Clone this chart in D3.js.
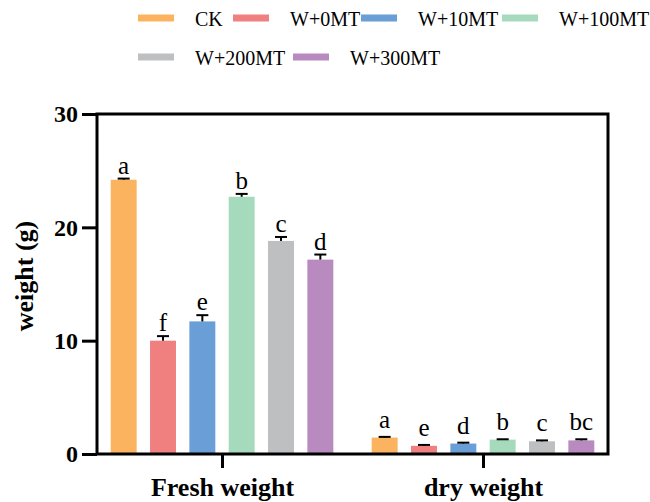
<!DOCTYPE html>
<html>
<head>
<meta charset="utf-8">
<script src="https://cdn.jsdelivr.net/npm/d3@7"></script>
<style>
  body { margin: 0; background: #fff; }
  svg { display: block; }
  svg text { font-family: "Liberation Serif", "Times New Roman", serif !important; }
</style>
</head>
<body>
<svg id="chart" width="650" height="502"></svg>
<script>
// data
const groups = ["Fresh weight", "dry weight"];
const treatments = ["CK", "W+0MT", "W+10MT", "W+100MT", "W+200MT", "W+300MT"];
const freshMeans = [24.2, 10.0, 11.7, 22.7, 18.8, 17.15];
const freshErrors = [0.1, 0.4, 0.55, 0.25, 0.35, 0.45];
const freshLetters = ["a", "f", "e", "b", "c", "d"];
const dryMeans = [1.45, 0.72, 0.92, 1.27, 1.12, 1.2];
const dryErrors = [0.06, 0.08, 0.08, 0.03, 0.08, 0.1];
const dryLetters = ["a", "e", "d", "b", "c", "bc"];
const yTicks = [0, 10, 20, 30];
const colors = ["#FBB360", "#F08080", "#6A9ED6", "#A6DABC", "#BEBFC1", "#B98AC0"];

const rows = [];
groups.forEach((g, gi) => {
  const means = gi === 0 ? freshMeans : dryMeans;
  const errs = gi === 0 ? freshErrors : dryErrors;
  const letters = gi === 0 ? freshLetters : dryLetters;
  treatments.forEach((t, i) => {
    rows.push({ group: g, gi, treatment: t, mean: means[i], err: errs[i], letter: letters[i] });
  });
});

const svg = d3.select("#chart");
const plot = { left: 97, right: 608, top: 114, bottom: 454 };

const y = d3.scaleLinear().domain([0, 30]).range([plot.bottom, plot.top]);
const x0 = d3.scalePoint().domain(groups).range([plot.left, plot.right]).padding(0.479);
const x1 = d3.scaleBand().domain(treatments).range([-118, 118]).paddingInner(0.34).paddingOuter(0.17);
const color = d3.scaleOrdinal().domain(treatments).range(colors);

const cx = d => x0(d.group) + x1(d.treatment) + x1.bandwidth() / 2;

// bars
svg.append("g").selectAll("rect")
  .data(rows)
  .enter().append("rect")
  .attr("x", d => x0(d.group) + x1(d.treatment))
  .attr("y", d => y(d.mean))
  .attr("width", x1.bandwidth())
  .attr("height", d => y(0) - y(d.mean))
  .attr("fill", d => color(d.treatment));

// error bars (upper only)
const eb = svg.append("g").attr("stroke", "#000").attr("stroke-width", 2);
eb.selectAll(".stem")
  .data(rows)
  .enter().append("line")
  .attr("x1", cx)
  .attr("x2", cx)
  .attr("y1", d => y(d.mean))
  .attr("y2", d => y(d.mean + d.err));
eb.selectAll(".cap")
  .data(rows)
  .enter().append("line")
  .attr("x1", d => cx(d) - 6)
  .attr("x2", d => cx(d) + 6)
  .attr("y1", d => y(d.mean + d.err))
  .attr("y2", d => y(d.mean + d.err));

// significance letters
svg.append("g").selectAll("text")
  .data(rows)
  .enter().append("text")
  .attr("x", cx)
  .attr("y", d => y(d.mean + d.err) - (d.gi === 0 ? 5 : 9))
  .attr("text-anchor", "middle")
  .style("font-size", "25px")
  .attr("fill", "#000")
  .text(d => d.letter);

// frame
svg.append("rect")
  .attr("x", plot.left)
  .attr("y", plot.top)
  .attr("width", plot.right - plot.left)
  .attr("height", plot.bottom - plot.top)
  .attr("fill", "none")
  .attr("stroke", "#000")
  .attr("stroke-width", 3);

// y axis
const yAxis = svg.append("g")
  .attr("transform", `translate(${plot.left},0)`)
  .call(d3.axisLeft(y).tickValues(yTicks).tickSize(15).tickPadding(4).tickSizeOuter(0));
yAxis.select(".domain").remove();
yAxis.selectAll(".tick line").attr("stroke", "#000").attr("stroke-width", 3);
yAxis.selectAll(".tick text")
  .attr("fill", "#000")
  .style("font-size", "24px")
  .style("font-weight", "bold");

// x axis
const xAxis = svg.append("g")
  .attr("transform", `translate(0,${plot.bottom})`)
  .call(d3.axisBottom(x0).tickSize(14).tickPadding(10).tickSizeOuter(0));
xAxis.select(".domain").remove();
xAxis.selectAll(".tick line").attr("stroke", "#000").attr("stroke-width", 3);
xAxis.selectAll(".tick text")
  .attr("fill", "#000")
  .style("font-size", "26px")
  .style("font-weight", "bold");

// y axis title
svg.append("text")
  .attr("transform", "translate(33,276) rotate(-90)")
  .attr("text-anchor", "middle")
  .style("font-size", "26px")
  .style("font-weight", "bold")
  .attr("fill", "#000")
  .text("weight (g)");

// legend
const legendPos = [[138, 18], [233, 18], [361, 18], [502, 18], [138, 57], [293, 57]];
const legend = svg.append("g").selectAll("g")
  .data(treatments)
  .enter().append("g")
  .attr("transform", (d, i) => `translate(${legendPos[i][0]},${legendPos[i][1]})`);
legend.append("rect")
  .attr("x", 0)
  .attr("y", -3.5)
  .attr("width", 36)
  .attr("height", 7)
  .attr("fill", d => color(d));
legend.append("text")
  .attr("x", 57)
  .attr("y", 8)
  .style("font-size", "20px")
  .attr("fill", "#000")
  .text(d => d);
</script>
</body>
</html>
